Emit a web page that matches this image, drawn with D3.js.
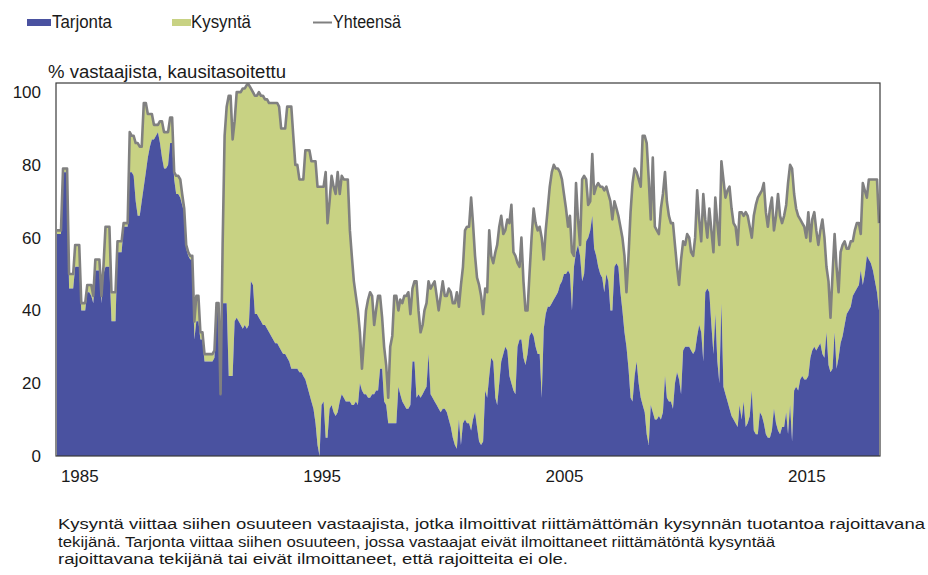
<!DOCTYPE html>
<html><head><meta charset="utf-8">
<script src="https://cdn.jsdelivr.net/npm/d3@7"></script>
<style>
body{margin:0;background:#fff}
svg{display:block}
text{font-family:"Liberation Sans",Arial,sans-serif;fill:#1a1a1a}
</style>
</head><body>
<svg id="c" width="928" height="575"></svg>
<script>
// ---- data (monthly, from Jan 1984) ----
const startYear = 1984;
const seriesNames = ["Tarjonta", "Kysyntä", "Yhteensä"];
const yTicks = [0, 20, 40, 60, 80, 100];
const xTickYears = [1985, 1995, 2005, 2015];
const yTitle = "% vastaajista, kausitasoitettu";
const footnote = [
  "Kysyntä viittaa siihen osuuteen vastaajista, jotka ilmoittivat riittämättömän kysynnän tuotantoa rajoittavana",
  "tekijänä. Tarjonta viittaa siihen osuuteen, jossa vastaajat eivät ilmoittaneet riittämätöntä kysyntää",
  "rajoittavana tekijänä tai eivät ilmoittaneet, että rajoitteita ei ole."
];

// Tarjonta (blue layer top)
const tarjonta = [
  61,61,61,78,78,78,46,46,46,52,52,52, // 1984
  40,40,40,45,45,44,42,51,51,51,42,50, // 1985
  52,52,52,37,37,37,56,56,56,63,63,63, // 1986
  78,78,77,70,66,66,70,74,78,82,85,87, // 1987
  87,88,89,86,82,79,79,80,86,86,76,72, // 1988
  72,71,69,67,57,55,54,54,32,37,37,32, // 1989
  32,26,26,26,26,26,27,41,41,17,42,42, // 1990
  42,22,22,22,37,38,37,36,35,36,35,36, // 1991
  48,47,39,39,38,37,36,36,35,34,33,32, // 1992
  31,31,30,29,28,28,27,26,24,24,24,24, // 1993
  23,23,22,21,19,17,15,13,9,3,0,14,    // 1994
  15,5,5,13,14,12,11,12,15,17,16,15,   // 1995
  15,15,14,14,15,14,20,18,17,17,16,16, // 1996
  17,17,18,18,24,24,15,14,9,9,9,9,     // 1997
  9,19,17,15,14,13,13,14,26,26,16,17,  // 1998
  16,17,18,19,28,17,16,15,14,13,12,13, // 1999
  13,12,10,8,5,3,2,10,3,9,10,9,        // 2000
  9,7,10,12,8,4,3,4,18,16,22,27,       // 2001
  26,16,14,20,26,28,30,29,22,20,18,17, // 2002
  30,32,32,27,25,28,33,34,33,30,28,28, // 2003
  16,35,39,41,41,42,43,44,45,47,48,50, // 2004
  50,51,50,40,52,56,58,55,48,50,59,60, // 2005
  62,66,57,55,52,50,49,45,50,48,40,40, // 2006
  52,53,52,45,40,34,30,24,16,15,22,26, // 2007
  20,16,14,12,6,3,14,12,10,10,11,10,   // 2008
  12,22,16,15,15,13,20,23,21,17,29,30, // 2009
  30,30,29,28,29,33,36,34,26,45,46,45, // 2010
  36,28,39,26,20,42,19,17,15,13,11,10, // 2011
  9,8,14,10,15,8,9,11,18,7,6,6,        // 2012
  12,11,9,6,5,5,7,13,9,7,6,8,          // 2013
  8,12,6,14,4,18,19,18,21,22,21,21,    // 2014
  22,27,29,30,29,30,31,28,27,34,25,23, // 2015
  24,34,24,27,31,33,36,39,40,41,44,45, // 2016
  46,47,51,47,50,55,54,53,51,48,45,40  // 2017
];

// Yhteensä (total = Tarjonta + Kysyntä, grey line / top of green layer)
const yhteensa = [
  62,62,62,79,79,79,50,50,50,58,58,58, // 1984
  42,42,42,47,47,47,44,54,54,54,44,52, // 1985
  63,63,63,45,45,45,59,59,59,64,64,64, // 1986
  89,88,88,86,86,85,85,97,97,94,94,94, // 1987
  91,91,91,92,92,89,89,89,93,93,78,77, // 1988
  77,76,72,68,58,56,55,55,37,44,44,34, // 1989
  34,28,28,28,28,28,29,42,42,17,58,88, // 1990
  96,99,99,87,92,100,100,100,101,101,102,102, // 1991
  101,100,99,99,100,99,99,98,98,97,97,97,     // 1992
  97,97,96,90,90,90,96,96,96,88,80,80, // 1993
  76,76,76,84,84,84,81,81,81,74,74,74, // 1994
  74,78,64,70,77,74,72,78,72,77,76,76, // 1995
  76,62,55,48,44,40,34,24,32,40,43,45, // 1996
  44,36,40,44,44,38,30,25,16,30,33,44, // 1997
  44,40,43,42,44,44,45,39,46,48,48,40, // 1998
  34,36,40,42,48,46,47,48,44,40,44,48, // 1999
  44,44,46,45,42,42,45,41,47,52,62,63, // 2000
  63,71,64,55,49,47,44,39,46,45,62,55, // 2001
  53,56,58,63,66,61,62,65,64,69,56,55, // 2002
  53,52,60,48,40,40,50,60,68,64,62,63, // 2003
  60,54,62,68,74,78,80,79,79,78,76,72, // 2004
  68,63,66,56,55,75,65,58,76,77,76,69, // 2005
  70,83,72,74,75,74,74,73,74,72,70,65, // 2006
  70,68,66,63,60,55,45,55,67,75,79,78, // 2007
  76,74,88,88,86,76,65,82,63,62,61,68, // 2008
  72,78,70,66,64,64,58,52,47,54,59,58, // 2009
  61,60,56,55,60,73,65,59,72,65,60,68, // 2010
  62,56,71,64,58,81,76,71,73,74,68,64, // 2011
  63,58,67,67,66,67,66,63,60,66,69,71, // 2012
  72,73,75,67,63,68,71,62,66,72,66,64, // 2013
  66,69,75,80,79,72,68,66,65,64,63,60, // 2014
  67,59,65,67,62,58,62,65,60,52,48,38, // 2015
  50,61,52,45,56,58,59,57,57,59,59,62, // 2016
  64,64,61,75,73,71,76,76,76,76,76,64  // 2017
];

// ---- drawing ----
const colors = {tarjonta: "#4a52a0", kysynta: "#c8d283", total: "#808080"};
const svg = d3.select("#c");
const plot = {left: 56, right: 880, top: 83, bottom: 456};

const rows = tarjonta.map((t, i) => ({
  date: new Date(startYear, i, 1),
  tarjonta: t,
  yhteensa: yhteensa[i]
}));

const x = d3.scaleTime()
  .domain([rows[0].date, rows[rows.length - 1].date])
  .range([plot.left + 1, plot.right - 1]);
const y = d3.scaleLinear().domain([0, 102.5]).range([plot.bottom, plot.top]);

svg.append("defs").append("clipPath").attr("id", "clip")
  .append("rect").attr("x", plot.left).attr("y", plot.top)
  .attr("width", plot.right - plot.left).attr("height", plot.bottom - plot.top);

const g = svg.append("g").attr("clip-path", "url(#clip)");

g.append("path").datum(rows)
  .attr("fill", colors.kysynta)
  .attr("d", d3.area().x(d => x(d.date)).y0(d => y(d.tarjonta)).y1(d => y(d.yhteensa)));

g.append("path").datum(rows)
  .attr("fill", colors.tarjonta)
  .attr("d", d3.area().x(d => x(d.date)).y0(y(0)).y1(d => y(d.tarjonta)));

g.append("path").datum(rows)
  .attr("fill", "none")
  .attr("stroke", colors.total)
  .attr("stroke-width", 2.6)
  .attr("stroke-linejoin", "round")
  .attr("d", d3.line().x(d => x(d.date)).y(d => y(d.yhteensa)));

// frame
svg.append("rect")
  .attr("x", plot.left).attr("y", plot.top)
  .attr("width", plot.right - plot.left).attr("height", plot.bottom - plot.top)
  .attr("fill", "none").attr("stroke", "#3a3a3a").attr("stroke-width", 1.2);

// axes
const yAxis = svg.append("g").attr("transform", `translate(${plot.left},0)`)
  .call(d3.axisLeft(y).tickValues(yTicks).tickSize(0).tickPadding(15));
yAxis.select(".domain").remove();
yAxis.selectAll("text").style("font-size", "17px").style("font-family", '"Liberation Sans",Arial,sans-serif').attr("fill", "#1a1a1a");

const xAxis = svg.append("g").attr("transform", `translate(0,${plot.bottom})`)
  .call(d3.axisBottom(x).tickValues(xTickYears.map(yr => new Date(yr, 0, 1)))
    .tickFormat(d3.timeFormat("%Y")).tickSize(0).tickPadding(14));
xAxis.select(".domain").remove();
xAxis.selectAll("text").style("font-size", "17px").style("font-family", '"Liberation Sans",Arial,sans-serif').attr("fill", "#1a1a1a").attr("dx", "-2");

// y title
svg.append("text").attr("x", 48).attr("y", 78).style("font-size", "17.5px")
  .attr("textLength", 238).attr("lengthAdjust", "spacingAndGlyphs").text(yTitle);

// legend
const leg = svg.append("g");
const legText = (xp, w, s) => leg.append("text").attr("x", xp).attr("y", 28).style("font-size", "17.5px")
  .attr("textLength", w).attr("lengthAdjust", "spacingAndGlyphs").text(s);
leg.append("rect").attr("x", 27).attr("y", 19).attr("width", 24).attr("height", 7).attr("fill", colors.tarjonta);
legText(52, 60, seriesNames[0]);
leg.append("rect").attr("x", 172).attr("y", 19).attr("width", 19).attr("height", 7).attr("fill", colors.kysynta);
legText(191, 60, seriesNames[1]);
leg.append("line").attr("x1", 313).attr("x2", 332).attr("y1", 22.5).attr("y2", 22.5)
  .attr("stroke", colors.total).attr("stroke-width", 2);
legText(333, 68, seriesNames[2]);

// footnote
const footWidths = [867, 717, 510];
footnote.forEach((line, i) => {
  svg.append("text").attr("x", 58).attr("y", 529 + i * 17.5)
    .style("font-size", "15.5px")
    .attr("textLength", footWidths[i]).attr("lengthAdjust", "spacingAndGlyphs")
    .text(line);
});
</script>
</body></html>
